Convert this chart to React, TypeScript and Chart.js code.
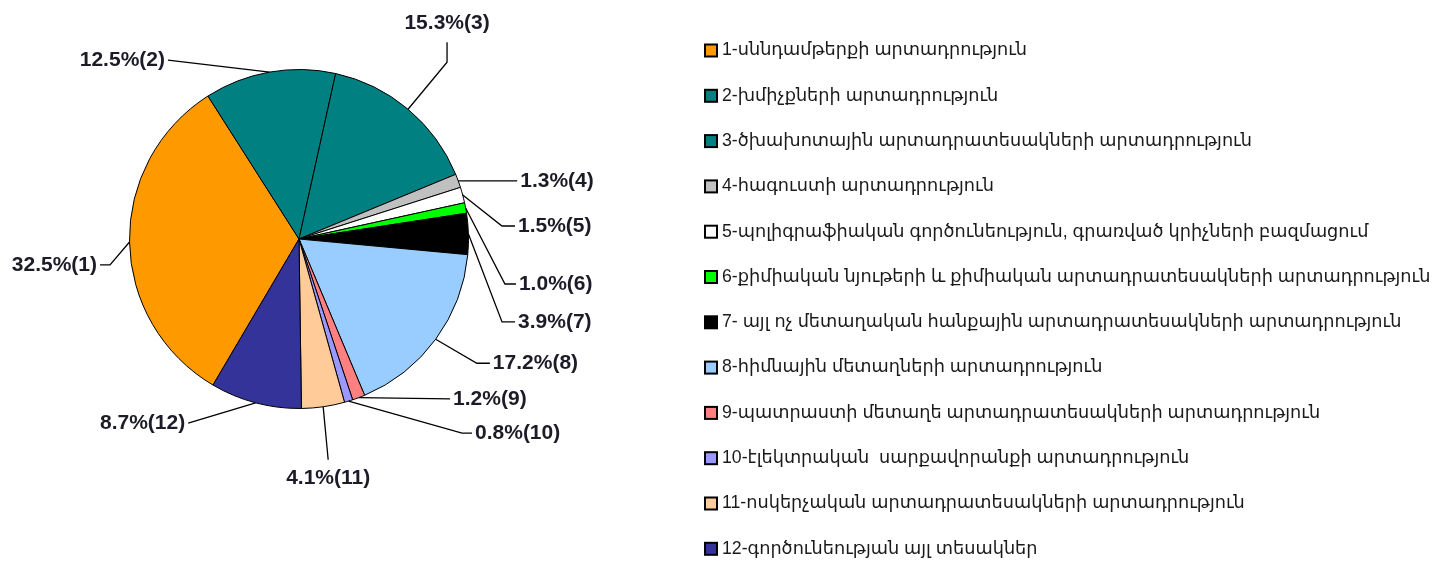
import React, { useEffect, useLayoutEffect, useRef } from "react";
import { Chart, registerables } from "chart.js";

Chart.register(...registerables);

const categories: string[] = [
  "1-սննդամթերքի արտադրություն",
  "2-խմիչքների արտադրություն",
  "3-ծխախոտային արտադրատեսակների արտադրություն",
  "4-հագուստի արտադրություն",
  "5-պոլիգրաֆիական գործունեություն, գրառված կրիչների բազմացում",
  "6-քիմիական նյութերի և քիմիական արտադրատեսակների արտադրություն",
  "7- այլ ոչ մետաղական հանքային արտադրատեսակների արտադրություն",
  "8-հիմնային մետաղների արտադրություն",
  "9-պատրաստի մետաղե արտադրատեսակների արտադրություն",
  "10-էլեկտրական  սարքավորանքի արտադրություն",
  "11-ոսկերչական արտադրատեսակների արտադրություն",
  "12-գործունեության այլ տեսակներ",
];

const shares: number[] = [32.5, 12.5, 15.3, 1.3, 1.5, 1.0, 3.9, 17.2, 1.2, 0.8, 4.1, 8.7];

const sliceNumbers: string[] = ["1", "2", "3", "4", "5", "6", "7", "8", "9", "10", "11", "12"];

const colors: string[] = [
  "#FF9900",
  "#008080",
  "#008080",
  "#C0C0C0",
  "#FFFFFF",
  "#00FF00",
  "#000000",
  "#99CCFF",
  "#FF8080",
  "#9999FF",
  "#FFCC99",
  "#333399",
];

// leader-line layout: offsets (px) from each slice's outer mid-point
type LabelLayout = { elbow: [number, number]; end: [number, number]; align: "left" | "right" | "center"; textDy: number };
const labelLayout: LabelLayout[] = [
  { elbow: [-19.5, 23], end: [-29.5, 23], align: "right", textDy: 0 },
  { elbow: [-101.6, -12], end: [-101.6, -12], align: "right", textDy: 0 },
  { elbow: [39, -47], end: [39, -67], align: "center", textDy: -19 },
  { elbow: [59, 0], end: [59, 0], align: "left", textDy: 0 },
  { elbow: [39.3, 31], end: [52.3, 31], align: "left", textDy: 0 },
  { elbow: [39.3, 76], end: [50.3, 76], align: "left", textDy: 0 },
  { elbow: [33.6, 88], end: [46.6, 88], align: "left", textDy: 0 },
  { elbow: [41.2, 24], end: [54.2, 24], align: "left", textDy: 0 },
  { elbow: [91.4, 1.3], end: [91.4, 1.3], align: "left", textDy: 0 },
  { elbow: [113.4, 32], end: [123.4, 32], align: "left", textDy: 0 },
  { elbow: [5, 53], end: [5, 53], align: "center", textDy: 18 },
  { elbow: [-67.4, 20.2], end: [-67.4, 20.2], align: "right", textDy: 0 },
];

const CANVAS_W = 1431;
const CANVAS_H = 554;

const labelPlugin = {
  id: "leaderLabels",
  afterDatasetsDraw(chart: any) {
    const ctx: CanvasRenderingContext2D = chart.ctx;
    const meta = chart.getDatasetMeta(0);
    ctx.save();
    ctx.font = "bold 21px 'Liberation Sans', Arial, sans-serif";
    ctx.fillStyle = "#1c1c28";
    ctx.strokeStyle = "#000";
    ctx.lineWidth = 1.3;
    meta.data.forEach((arc: any, i: number) => {
      const p = arc.getProps(["x", "y", "startAngle", "endAngle", "outerRadius"], true);
      const mid = (p.startAngle + p.endAngle) / 2;
      const px = p.x + Math.cos(mid) * p.outerRadius;
      const py = p.y + Math.sin(mid) * p.outerRadius;
      const L = labelLayout[i];
      const ex = px + L.elbow[0];
      const ey = py + L.elbow[1];
      const tx = px + L.end[0];
      const ty = py + L.end[1];
      ctx.beginPath();
      ctx.moveTo(px, py);
      ctx.lineTo(ex, ey);
      ctx.lineTo(tx, ty);
      ctx.stroke();
      const text = `${shares[i].toFixed(1)}%(${sliceNumbers[i]})`;
      ctx.textBaseline = "middle";
      ctx.textAlign = L.align;
      let x = tx;
      if (L.align === "left") x = tx + 3;
      if (L.align === "right") x = tx - 3;
      ctx.fillText(text, x, ty + L.textDy);
    });
    ctx.restore();
  },
  afterDraw(chart: any) {
    const ctx: CanvasRenderingContext2D = chart.ctx;
    ctx.save();
    ctx.font = "17.7px 'Liberation Sans', 'DejaVu Sans', Arial, sans-serif";
    ctx.textBaseline = "middle";
    ctx.textAlign = "left";
    const x0 = 697;
    const y0 = 42.5;
    const step = 45.3;
    categories.forEach((label, i) => {
      const cy = y0 + i * step;
      ctx.fillStyle = colors[i];
      ctx.fillRect(x0, cy - 6, 12, 12);
      ctx.strokeStyle = "#000";
      ctx.lineWidth = 2;
      ctx.strokeRect(x0, cy - 6, 12, 12);
      ctx.fillStyle = "#1a1a1a";
      ctx.fillText(label, x0 + 17, cy);
    });
    ctx.restore();
  },
};

export default function App() {
  const canvasRef = useRef<HTMLCanvasElement | null>(null);

  useLayoutEffect(() => {
    const prev = document.body.style.margin;
    document.body.style.margin = "0px";
    return () => {
      document.body.style.margin = prev;
    };
  }, []);

  useEffect(() => {
    if (!canvasRef.current) return;
    const chart = new Chart(canvasRef.current, {
      type: "pie",
      data: {
        labels: categories,
        datasets: [
          {
            data: shares,
            backgroundColor: colors,
            borderColor: "#000000",
            borderWidth: 1,
          },
        ],
      },
      options: {
        responsive: true,
        maintainAspectRatio: false,
        animation: false,
        rotation: 210.5,
        layout: {
          padding: { left: 121, right: CANVAS_W - 461, top: 61, bottom: CANVAS_H - 401 },
        },
        plugins: {
          legend: { display: false },
          tooltip: { enabled: false },
          title: { display: false },
        },
      },
      plugins: [labelPlugin],
    });
    return () => chart.destroy();
  }, []);

  return (
    <div style={{ boxSizing: "border-box", paddingTop: 8, paddingLeft: 8, width: 1447, height: 562 }}>
      <div style={{ position: "relative", width: CANVAS_W, height: CANVAS_H }}>
        <canvas ref={canvasRef} />
      </div>
    </div>
  );
}
